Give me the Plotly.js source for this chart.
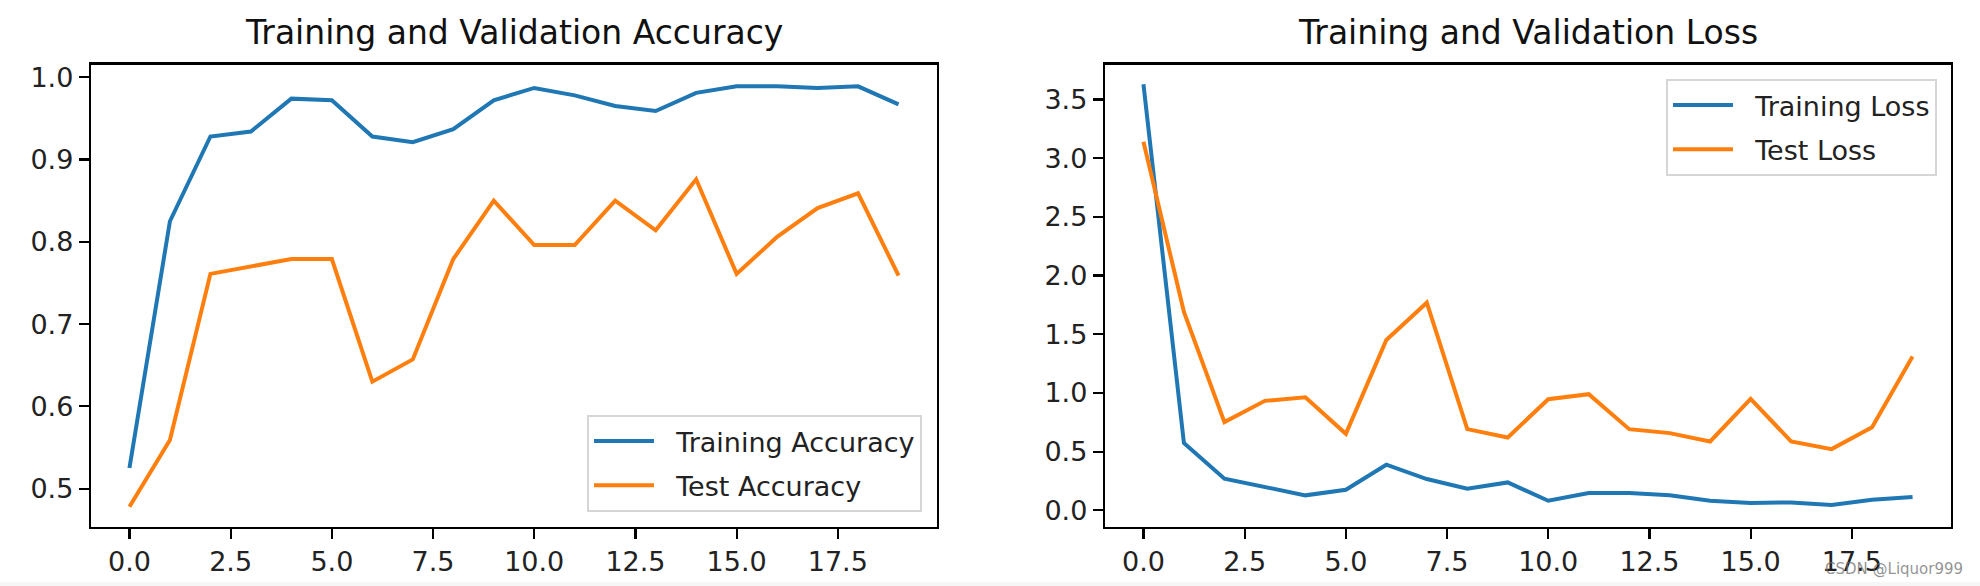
<!DOCTYPE html>
<html>
<head>
<meta charset="utf-8">
<script src="https://cdn.plot.ly/plotly-3.0.1.min.js"></script>
<style>
  html, body { margin: 0; padding: 0; background: #ffffff; }
  #chart { width: 1980px; height: 586px; }
</style>
</head>
<body>
<div id="chart"></div>
<script>
const epochs = [0,1,2,3,4,5,6,7,8,9,10,11,12,13,14,15,16,17,18,19];

const trainAccuracy = [0.525,0.825,0.928,0.934,0.974,0.972,0.928,0.921,0.937,0.972,0.987,0.978,0.965,0.959,0.981,0.989,0.989,0.987,0.989,0.967];
const testAccuracy  = [0.478,0.559,0.761,0.770,0.779,0.779,0.630,0.657,0.779,0.850,0.796,0.796,0.850,0.814,0.876,0.761,0.806,0.841,0.859,0.759];

const trainLoss = [3.63,0.573,0.270,0.199,0.128,0.176,0.389,0.267,0.184,0.238,0.082,0.148,0.148,0.128,0.082,0.063,0.068,0.046,0.091,0.114];
const testLoss  = [3.14,1.69,0.752,0.933,0.964,0.652,1.452,1.769,0.692,0.621,0.947,0.990,0.692,0.658,0.587,0.950,0.587,0.522,0.709,1.31];

const seriesNames = ["Training Accuracy","Test Accuracy","Training Loss","Test Loss"];
const titles = ["Training and Validation Accuracy","Training and Validation Loss"];
const watermark = "CSDN @Liquor999";

const BLUE = "#1f77b4", ORANGE = "#ff7f0e";
const FONT = "DejaVu Sans, sans-serif";
const W = 1980, H = 586;
const px = v => v / W;
const py = v => (H - v) / H;
const GAP = "\u00a0\u00a0";

const line = (x, y, name, color, xa, ya, lg, grp) => ({
  type: "scatter", mode: "lines", x: x, y: y, name: GAP + name,
  line: {color: color, width: 4},
  xaxis: xa, yaxis: ya, legend: lg, legendgroup: grp, hoverinfo: "skip"
});

const data = [
  line(epochs, trainAccuracy, seriesNames[0], BLUE, "x", "y", "legend", "a"),
  line(epochs, testAccuracy, seriesNames[1], ORANGE, "x", "y", "legend", "b"),
  line(epochs, trainLoss, seriesNames[2], BLUE, "x2", "y2", "legend2", "c"),
  line(epochs, testLoss, seriesNames[3], ORANGE, "x2", "y2", "legend2", "d")
];

const axisCommon = {
  showgrid: false, zeroline: false, showline: true, mirror: true,
  linecolor: "#000000", linewidth: 2.2,
  ticks: "outside", ticklen: 10, tickwidth: 2.2, tickcolor: "#000000",
  tickfont: {family: FONT, size: 27, color: "#222222"},
  tickformat: ".1f", fixedrange: true
};

const yTop = 64.5, yBot = 526.7;

const legendCommon = {
  font: {family: FONT, size: 27, color: "#222222"},
  bgcolor: "rgba(255,255,255,0.8)", bordercolor: "#d6d6d6", borderwidth: 2,
  itemwidth: 60, tracegroupgap: 6, traceorder: "grouped",
  itemclick: false, itemdoubleclick: false
};

const layout = {
  width: W, height: H,
  margin: {l: 0, r: 0, t: 0, b: 0},
  paper_bgcolor: "#ffffff", plot_bgcolor: "#ffffff",
  showlegend: true,
  xaxis: Object.assign({}, axisCommon, {domain: [px(91), px(937)], range: [-0.95, 19.95], tick0: 0, dtick: 2.5, anchor: "y"}),
  yaxis: Object.assign({}, axisCommon, {domain: [py(yBot), py(yTop)], range: [0.4537, 1.0155], tick0: 0, dtick: 0.1, anchor: "x"}),
  xaxis2: Object.assign({}, axisCommon, {domain: [px(1105), px(1951)], range: [-0.95, 19.95], tick0: 0, dtick: 2.5, anchor: "y2"}),
  yaxis2: Object.assign({}, axisCommon, {domain: [py(yBot), py(yTop)], range: [-0.139, 3.798], tick0: 0, dtick: 0.5, anchor: "x2"}),
  legend: Object.assign({}, legendCommon, {x: px(922), xanchor: "right", y: py(512), yanchor: "bottom"}),
  legend2: Object.assign({}, legendCommon, {x: px(1937), xanchor: "right", y: py(79), yanchor: "top"}),
  annotations: [
    {text: titles[0], xref: "paper", yref: "paper", x: px(514), y: py(54), xanchor: "center", yanchor: "bottom",
     showarrow: false, font: {family: FONT, size: 33, color: "#111111"}},
    {text: titles[1], xref: "paper", yref: "paper", x: px(1528), y: py(54), xanchor: "center", yanchor: "bottom",
     showarrow: false, font: {family: FONT, size: 33, color: "#111111"}},
    {text: watermark, xref: "paper", yref: "paper", x: px(1965), y: py(569), xanchor: "right", yanchor: "middle",
     showarrow: false, font: {family: FONT, size: 15, color: "rgba(110,110,110,0.75)"}}
  ],
  shapes: [
    {type: "rect", xref: "paper", yref: "paper", x0: 0, x1: 1, y0: 0, y1: py(582), fillcolor: "#f6f6f6", line: {width: 0}, layer: "below"}
  ]
};

Plotly.newPlot("chart", data, layout, {staticPlot: true, displayModeBar: false});
</script>
</body>
</html>
